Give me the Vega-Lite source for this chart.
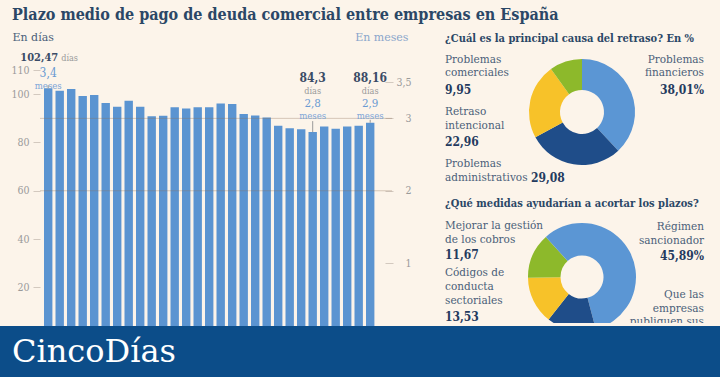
{
  "$schema": "https://vega.github.io/schema/vega-lite/v6.json",
  "background": "#fcf4ea",
  "padding": {"left": 0, "right": 0, "top": 7, "bottom": 0},
  "config": {
    "font": "DejaVu Serif",
    "view": {"stroke": null},
    "axis": {"labelFont": "DejaVu Serif Condensed, DejaVu Serif", "titleFont": "DejaVu Serif"},
    "text": {"font": "DejaVu Serif"}
  },
  "title": {
    "text": "Plazo medio de pago de deuda comercial entre empresas en España",
    "anchor": "start", "dx": 12, "fontSize": 16, "fontWeight": "bold",
    "font": "DejaVu Serif Condensed, DejaVu Serif", "color": "#2b4766", "offset": 8
  },
  "datasets": {
    "plazos": [
      {"n": 1, "dias": 102.47}, {"n": 2, "dias": 101.5}, {"n": 3, "dias": 102.2},
      {"n": 4, "dias": 99.3}, {"n": 5, "dias": 99.7}, {"n": 6, "dias": 96.4},
      {"n": 7, "dias": 94.8}, {"n": 8, "dias": 97.3}, {"n": 9, "dias": 94.8},
      {"n": 10, "dias": 90.9}, {"n": 11, "dias": 91.1}, {"n": 12, "dias": 94.6},
      {"n": 13, "dias": 94.1}, {"n": 14, "dias": 94.6}, {"n": 15, "dias": 94.6},
      {"n": 16, "dias": 96.2}, {"n": 17, "dias": 96.0}, {"n": 18, "dias": 91.8},
      {"n": 19, "dias": 91.2}, {"n": 20, "dias": 90.4}, {"n": 21, "dias": 86.9},
      {"n": 22, "dias": 85.9}, {"n": 23, "dias": 85.5}, {"n": 24, "dias": 84.3},
      {"n": 25, "dias": 86.6}, {"n": 26, "dias": 85.7}, {"n": 27, "dias": 86.6},
      {"n": 28, "dias": 86.9}, {"n": 29, "dias": 88.16}
    ],
    "referencias": [
      {"ref": 60, "desde": 1, "hasta": 29},
      {"ref": 90, "desde": 1, "hasta": 29}
    ],
    "causas": [
      {"causa": "Problemas financieros", "nombre": "Problemas\nfinancieros", "pct": 38.01, "orden": 1, "lado": "R", "hueco": 1},
      {"causa": "Problemas administrativos", "nombre": "Problemas\nadministrativos", "pct": 29.08, "orden": 2, "lado": "L", "hueco": 3},
      {"causa": "Retraso intencional", "nombre": "Retraso\nintencional", "pct": 22.96, "orden": 3, "lado": "L", "hueco": 2},
      {"causa": "Problemas comerciales", "nombre": "Problemas\ncomerciales", "pct": 9.95, "orden": 4, "lado": "L", "hueco": 1}
    ],
    "medidas": [
      {"medida": "Régimen sancionador", "nombre": "Régimen\nsancionador", "pct": 45.89, "orden": 1, "lado": "R", "hueco": 1},
      {"medida": "Que las empresas publiquen sus plazos de pago", "nombre": "Que las\nempresas\npubliquen sus\nplazos de pago", "pct": 14.71, "orden": 2, "lado": "R", "hueco": 2},
      {"medida": "Otras medidas", "nombre": "Otras\nmedidas", "pct": 14.2, "orden": 3, "lado": "N", "hueco": 3},
      {"medida": "Códigos de conducta sectoriales", "nombre": "Códigos de\nconducta\nsectoriales", "pct": 13.53, "orden": 4, "lado": "L", "hueco": 2},
      {"medida": "Mejorar la gestión de los cobros", "nombre": "Mejorar la gestión\nde los cobros", "pct": 11.67, "orden": 5, "lado": "L", "hueco": 1}
    ]
  },
  "vconcat": [
    {
      "hconcat": [
        {
          "width": 385, "height": 276,
          "data": {"name": "plazos"},
          "transform": [
            {"calculate": "replace(format(datum.dias, '.2~f'), '.', ',')", "as": "dias_txt"},
            {"calculate": "replace(format(datum.dias / 30, '.1f'), '.', ',')", "as": "meses_txt"}
          ],
          "layer": [
            {
              "mark": {"type": "bar", "color": "#5b94d1", "clip": true},
              "encoding": {
                "x": {"field": "n", "type": "ordinal", "axis": null,
                      "scale": {"range": [40.9, 377.5], "paddingInner": 0.27, "paddingOuter": 0.27}},
                "y": {"field": "dias", "type": "quantitative", "stack": null,
                      "scale": {"domain": [3.94, 118.34], "nice": false, "zero": false},
                      "axis": {"orient": "left", "offset": -40, "values": [20, 40, 60, 80, 100, 110],
                               "title": "En días", "titleAngle": 0, "titleX": -28, "titleY": -13,
                               "titleAlign": "left", "titleBaseline": "middle", "titleFontSize": 11,
                               "titleFontWeight": "normal", "titleColor": "#4b5f79",
                               "domain": false, "grid": false, "tickSize": 7, "tickColor": "#d3c9bf",
                               "labelPadding": 4, "labelColor": "#9a9a9a", "labelFontSize": 10.5}}
              }
            },
            {
              "data": {"name": "referencias"},
              "mark": {"type": "rule", "color": "#8c6f5a", "opacity": 0.35, "xOffset": -8.2, "x2Offset": 21.8},
              "encoding": {
                "x": {"field": "desde", "type": "ordinal", "axis": null},
                "x2": {"field": "hasta"},
                "y": {"field": "ref", "type": "quantitative",
                      "scale": {"domain": [3.94, 118.34], "nice": false, "zero": false},
                      "axis": {"orient": "right", "values": [30, 60, 90, 105],
                               "labelExpr": "replace(format(datum.value / 30, '.1~f'), '.', ',')",
                               "title": "En meses", "titleAngle": 0, "titleX": 23, "titleY": -13,
                               "titleAlign": "right", "titleBaseline": "middle", "titleFontSize": 11,
                               "titleFontWeight": "normal", "titleColor": "#8aa6cb",
                               "domain": false, "grid": false, "tickSize": 8, "tickColor": "#d3c9bf",
                               "labelAlign": "right", "labelPadding": 18, "labelColor": "#9a9a9a",
                               "labelFontSize": 10.5}}
              }
            },
            {
              "transform": [{"filter": "datum.n == 1"}],
              "mark": {"type": "text", "align": "right", "dx": 10, "fontSize": 11, "fontWeight": "bold", "color": "#3a4b66", "font": "DejaVu Serif Condensed, DejaVu Serif"},
              "encoding": {"x": {"field": "n", "type": "ordinal", "axis": null}, "y": {"datum": 115.2, "type": "quantitative", "axis": null}, "text": {"field": "dias_txt"}}
            },
            {
              "transform": [{"filter": "datum.n == 1"}],
              "mark": {"type": "text", "align": "left", "dx": 13, "fontSize": 9, "color": "#9a9a9a", "font": "DejaVu Serif Condensed, DejaVu Serif"},
              "encoding": {"x": {"field": "n", "type": "ordinal", "axis": null}, "y": {"datum": 115.2, "type": "quantitative", "axis": null}, "text": {"value": "días"}}
            },
            {
              "transform": [{"filter": "datum.n == 1"}],
              "mark": {"type": "text", "fontSize": 12, "color": "#6a9ad2", "font": "DejaVu Serif Condensed, DejaVu Serif"},
              "encoding": {"x": {"field": "n", "type": "ordinal", "axis": null}, "y": {"datum": 108.6, "type": "quantitative", "axis": null}, "text": {"field": "meses_txt"}}
            },
            {
              "transform": [{"filter": "datum.n == 1"}],
              "mark": {"type": "text", "fontSize": 9.5, "color": "#7ea6d8", "font": "DejaVu Serif Condensed, DejaVu Serif"},
              "encoding": {"x": {"field": "n", "type": "ordinal", "axis": null}, "y": {"datum": 103.6, "type": "quantitative", "axis": null}, "text": {"value": "meses"}}
            },
            {
              "transform": [{"filter": "datum.n == 24 || datum.n == 29"}],
              "mark": {"type": "text", "fontSize": 12, "fontWeight": "bold", "color": "#3a4b66", "font": "DejaVu Serif Condensed, DejaVu Serif"},
              "encoding": {"x": {"field": "n", "type": "ordinal", "axis": null}, "y": {"datum": 106.8, "type": "quantitative", "axis": null}, "text": {"field": "dias_txt"}}
            },
            {
              "transform": [{"filter": "datum.n == 24 || datum.n == 29"}],
              "mark": {"type": "text", "fontSize": 9, "color": "#9a9a9a", "font": "DejaVu Serif Condensed, DejaVu Serif"},
              "encoding": {"x": {"field": "n", "type": "ordinal", "axis": null}, "y": {"datum": 101.35, "type": "quantitative", "axis": null}, "text": {"value": "días"}}
            },
            {
              "transform": [{"filter": "datum.n == 24 || datum.n == 29"}],
              "mark": {"type": "text", "fontSize": 11.5, "color": "#6a9ad2", "font": "DejaVu Serif Condensed, DejaVu Serif"},
              "encoding": {"x": {"field": "n", "type": "ordinal", "axis": null}, "y": {"datum": 95.8, "type": "quantitative", "axis": null}, "text": {"field": "meses_txt"}}
            },
            {
              "transform": [{"filter": "datum.n == 24 || datum.n == 29"}],
              "mark": {"type": "text", "fontSize": 9.5, "color": "#7ea6d8", "font": "DejaVu Serif Condensed, DejaVu Serif"},
              "encoding": {"x": {"field": "n", "type": "ordinal", "axis": null}, "y": {"datum": 90.8, "type": "quantitative", "axis": null}, "text": {"value": "meses"}}
            },
            {
              "transform": [{"filter": "datum.n == 24"}],
              "mark": {"type": "rule", "color": "#9a9a9a", "y2Offset": -11},
              "encoding": {"x": {"field": "n", "type": "ordinal", "axis": null}, "y": {"field": "dias", "type": "quantitative", "axis": null}, "y2": {"field": "dias"}}
            },
            {
              "transform": [{"filter": "datum.n == 29"}],
              "mark": {"type": "rule", "color": "#9a9a9a", "y2Offset": -3},
              "encoding": {"x": {"field": "n", "type": "ordinal", "axis": null}, "y": {"field": "dias", "type": "quantitative", "axis": null}, "y2": {"field": "dias"}}
            },
            {
              "transform": [{"filter": "datum.n == 1"}],
              "mark": {"type": "rule", "color": "#9a9a9a", "y2Offset": -3},
              "encoding": {"x": {"field": "n", "type": "ordinal", "axis": null}, "y": {"field": "dias", "type": "quantitative", "axis": null}, "y2": {"field": "dias"}}
            }
          ],
          "resolve": {"axis": {"y": "independent"}}
        },
        {
          "vconcat": [
            {
              "width": 274, "height": 124,
              "title": {"text": "¿Cuál es la principal causa del retraso? En %", "anchor": "start", "fontSize": 11,
                        "fontWeight": "bold", "color": "#2b4766", "offset": 6,
                        "font": "DejaVu Serif Condensed, DejaVu Serif"},
              "data": {"name": "causas"},
              "transform": [
                {"calculate": "replace(format(datum.pct, '.2f'), '.', ',') + (datum.orden == 1 ? '%' : '')", "as": "pct_txt"}
              ],
              "layer": [
                {
                  "mark": {"type": "arc", "outerRadius": 53, "innerRadius": 22},
                  "encoding": {
                    "theta": {"field": "pct", "type": "quantitative"},
                    "order": {"field": "orden", "type": "quantitative"},
                    "color": {"field": "causa", "type": "nominal", "legend": null,
                              "scale": {"domain": ["Problemas financieros", "Problemas administrativos", "Retraso intencional", "Problemas comerciales"],
                                        "range": ["#5b96d4", "#1f4d89", "#f7c229", "#8db92b"]}}
                  }
                },
                {
                  "transform": [{"filter": "datum.lado == 'L'"}],
                  "mark": {"type": "text", "align": "left", "lineBreak": "\n", "lineHeight": 13.5, "fontSize": 10.5, "color": "#4b5f79"},
                  "encoding": {
                    "x": {"field": "lado", "type": "nominal", "axis": null, "scale": {"type": "point", "domain": ["L", "R"], "padding": 0}},
                    "y": {"field": "hueco", "type": "quantitative", "axis": null, "scale": {"domain": [0.8077, 3.1923], "nice": false, "zero": false, "reverse": true}},
                    "text": {"field": "nombre"}
                  }
                },
                {
                  "transform": [{"filter": "datum.lado == 'R'"}],
                  "mark": {"type": "text", "align": "right", "dx": -15, "lineBreak": "\n", "lineHeight": 13.5, "fontSize": 10.5, "color": "#4b5f79"},
                  "encoding": {
                    "x": {"field": "lado", "type": "nominal", "axis": null},
                    "y": {"field": "hueco", "type": "quantitative", "axis": null},
                    "text": {"field": "nombre"}
                  }
                },
                {
                  "transform": [{"filter": "datum.lado == 'L' && datum.hueco < 3"}],
                  "mark": {"type": "text", "align": "left", "dy": 30, "fontSize": 12, "fontWeight": "bold", "color": "#243a5e", "font": "DejaVu Serif Condensed, DejaVu Serif"},
                  "encoding": {
                    "x": {"field": "lado", "type": "nominal", "axis": null},
                    "y": {"field": "hueco", "type": "quantitative", "axis": null},
                    "text": {"field": "pct_txt"}
                  }
                },
                {
                  "transform": [{"filter": "datum.lado == 'L' && datum.hueco == 3"}],
                  "mark": {"type": "text", "align": "left", "dy": 13.5, "dx": 86, "fontSize": 12, "fontWeight": "bold", "color": "#243a5e", "font": "DejaVu Serif Condensed, DejaVu Serif"},
                  "encoding": {
                    "x": {"field": "lado", "type": "nominal", "axis": null},
                    "y": {"field": "hueco", "type": "quantitative", "axis": null},
                    "text": {"field": "pct_txt"}
                  }
                },
                {
                  "transform": [{"filter": "datum.lado == 'R'"}],
                  "mark": {"type": "text", "align": "right", "dx": -15, "dy": 30, "fontSize": 12, "fontWeight": "bold", "color": "#243a5e", "font": "DejaVu Serif Condensed, DejaVu Serif"},
                  "encoding": {
                    "x": {"field": "lado", "type": "nominal", "axis": null},
                    "y": {"field": "hueco", "type": "quantitative", "axis": null},
                    "text": {"field": "pct_txt"}
                  }
                }
              ]
            },
            {
              "width": 274, "height": 108,
              "title": {"text": "¿Qué medidas ayudarían a acortar los plazos?", "anchor": "start", "fontSize": 11,
                        "fontWeight": "bold", "color": "#2b4766", "offset": 6,
                        "font": "DejaVu Serif Condensed, DejaVu Serif"},
              "data": {"name": "medidas"},
              "transform": [
                {"calculate": "replace(format(datum.pct, '.2f'), '.', ',') + (datum.orden == 1 ? '%' : '')", "as": "pct_txt"}
              ],
              "layer": [
                {
                  "mark": {"type": "arc", "outerRadius": 54, "innerRadius": 21.5, "yOffset": 8, "clip": true},
                  "encoding": {
                    "theta": {"field": "pct", "type": "quantitative"},
                    "order": {"field": "orden", "type": "quantitative"},
                    "color": {"field": "medida", "type": "nominal", "legend": null,
                              "scale": {"domain": ["Régimen sancionador", "Que las empresas publiquen sus plazos de pago", "Otras medidas", "Códigos de conducta sectoriales", "Mejorar la gestión de los cobros"],
                                        "range": ["#5b96d4", "#1f4d89", "#f7c229", "#8db92b", "#e6334c"]}}
                  }
                },
                {
                  "transform": [{"filter": "datum.lado == 'L'"}],
                  "mark": {"type": "text", "align": "left", "lineBreak": "\n", "lineHeight": 14, "fontSize": 10.5, "color": "#4b5f79", "clip": true},
                  "encoding": {
                    "x": {"field": "lado", "type": "nominal", "axis": null, "scale": {"type": "point", "domain": ["L", "R"], "padding": 0}},
                    "y": {"field": "hueco", "type": "quantitative", "axis": null, "scale": {"domain": [0.766, 3.0639], "nice": false, "zero": false, "reverse": true}},
                    "text": {"field": "nombre"}
                  }
                },
                {
                  "transform": [{"filter": "datum.lado == 'L' && datum.hueco == 1"}],
                  "mark": {"type": "text", "align": "left", "dy": 29, "fontSize": 12, "fontWeight": "bold", "color": "#243a5e", "font": "DejaVu Serif Condensed, DejaVu Serif", "clip": true},
                  "encoding": {
                    "x": {"field": "lado", "type": "nominal", "axis": null},
                    "y": {"field": "hueco", "type": "quantitative", "axis": null, "scale": {"domain": [0.766, 3.0639], "nice": false, "zero": false, "reverse": true}},
                    "text": {"field": "pct_txt"}
                  }
                },
                {
                  "transform": [{"filter": "datum.lado == 'L' && datum.hueco == 2"}],
                  "mark": {"type": "text", "align": "left", "dy": 44, "fontSize": 12, "fontWeight": "bold", "color": "#243a5e", "font": "DejaVu Serif Condensed, DejaVu Serif", "clip": true},
                  "encoding": {
                    "x": {"field": "lado", "type": "nominal", "axis": null},
                    "y": {"field": "hueco", "type": "quantitative", "axis": null, "scale": {"domain": [0.766, 3.0639], "nice": false, "zero": false, "reverse": true}},
                    "text": {"field": "pct_txt"}
                  }
                },
                {
                  "transform": [{"filter": "datum.lado == 'R'"}],
                  "mark": {"type": "text", "align": "right", "dx": -15, "lineBreak": "\n", "lineHeight": 13.5, "fontSize": 10.5, "color": "#4b5f79", "clip": true},
                  "encoding": {
                    "x": {"field": "lado", "type": "nominal", "axis": null},
                    "y": {"field": "hueco", "type": "quantitative", "axis": null, "scale": {"domain": [0.8235, 2.4117], "nice": false, "zero": false, "reverse": true}},
                    "text": {"field": "nombre"}
                  }
                },
                {
                  "transform": [{"filter": "datum.lado == 'R' && datum.hueco == 1"}],
                  "mark": {"type": "text", "align": "right", "dx": -15, "dy": 29, "fontSize": 12, "fontWeight": "bold", "color": "#243a5e", "font": "DejaVu Serif Condensed, DejaVu Serif", "clip": true},
                  "encoding": {
                    "x": {"field": "lado", "type": "nominal", "axis": null},
                    "y": {"field": "hueco", "type": "quantitative", "axis": null, "scale": {"domain": [0.8235, 2.4117], "nice": false, "zero": false, "reverse": true}},
                    "text": {"field": "pct_txt"}
                  }
                }
              ],
              "resolve": {"scale": {"y": "independent"}}
            }
          ],
          "spacing": 14
        }
      ],
      "spacing": 34
    },
    {
      "width": 720, "height": 51,
      "view": {"fill": "#0c4d89", "stroke": null},
      "data": {"values": [{"medio": "CincoDías"}]},
      "mark": {"type": "text", "align": "left", "baseline": "middle", "dx": 12, "fontSize": 32, "color": "#ffffff", "font": "DejaVu Serif"},
      "encoding": {
        "x": {"field": "medio", "type": "nominal", "axis": null, "scale": {"type": "point", "padding": 0, "align": 0}},
        "text": {"field": "medio"}
      }
    }
  ],
  "spacing": 0
}
